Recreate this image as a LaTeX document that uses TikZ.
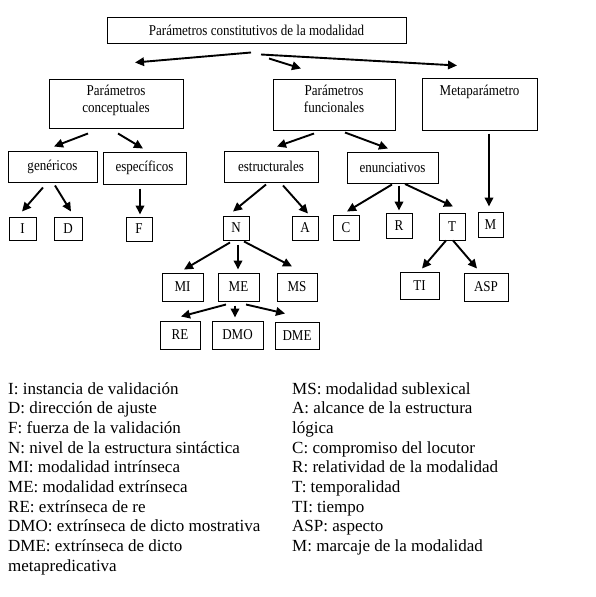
\documentclass[tikz,border=0pt]{standalone}
\usepackage{fontspec}
\setmainfont{Liberation Serif}
\newfontfamily\boxfont[FakeStretch=0.87]{Liberation Serif}
\usetikzlibrary{arrows.meta}
\begin{document}
\begin{tikzpicture}[x=1pt,y=-1pt,
  box/.style={draw, line width=1pt, inner sep=0pt, font=\boxfont\fontsize{15}{17}\selectfont},
  arr/.style={line width=1.9pt, -{Triangle[length=9pt,width=8.5pt]}},
  leg/.style={anchor=base west, inner sep=0pt, font=\fontsize{17}{20}\selectfont}]
\useasboundingbox[fill=white] (0,0) rectangle (595,597);
% top
\node[box, minimum width=299pt, minimum height=26pt] (top) at (256.5,30) {Parámetros constitutivos de la modalidad};
% level 1
\node[box, minimum width=134pt, minimum height=49pt] (conc) at (116,103.5)
  {\parbox[c][49pt][t]{134pt}{\centering\vspace*{6pt}Parámetros\\conceptuales}};
\node[box, minimum width=122pt, minimum height=51pt] (func) at (334,104.5)
  {\parbox[c][51pt][t]{122pt}{\centering\vspace*{6pt}Parámetros\\funcionales}};
\node[box, minimum width=115pt, minimum height=52pt] (meta) at (479.5,104)
  {\parbox[c][52pt][t]{115pt}{\centering\vspace*{7pt}Metaparámetro}};
% level 2
\node[box, minimum width=89pt, minimum height=31pt] (gen) at (52.5,166.5) {genéricos};
\node[box, minimum width=83pt, minimum height=32pt] (esp) at (144.5,168) {específicos};
\node[box, minimum width=94pt, minimum height=31pt] (est) at (271,166.5) {estructurales};
\node[box, minimum width=91pt, minimum height=31pt] (enu) at (392.5,167.5) {enunciativos};
% level 3
\node[box, minimum width=27pt, minimum height=23pt] (I) at (22.5,228.5) {I};
\node[box, minimum width=28pt, minimum height=23pt] (D) at (68,228.5) {D};
\node[box, minimum width=26pt, minimum height=24pt] (F) at (139,229) {F};
\node[box, minimum width=26pt, minimum height=24pt] (N) at (236,228) {N};
\node[box, minimum width=26pt, minimum height=24pt] (A) at (305,228) {A};
\node[box, minimum width=26pt, minimum height=25pt] (C) at (346,227.5) {C};
\node[box, minimum width=26pt, minimum height=25pt] (R) at (399,225.5) {R};
\node[box, minimum width=26pt, minimum height=27pt] (T) at (452,226.5) {T};
\node[box, minimum width=25pt, minimum height=25pt] (M) at (490.5,224.5) {M};
% level 4
\node[box, minimum width=41pt, minimum height=28pt] (MI) at (182.5,287) {MI};
\node[box, minimum width=41pt, minimum height=28pt] (ME) at (238.5,287) {ME};
\node[box, minimum width=40pt, minimum height=28pt] (MS) at (297,287) {MS};
\node[box, minimum width=39pt, minimum height=27pt] (TI) at (419.5,285.5) {TI};
\node[box, minimum width=44pt, minimum height=28pt] (ASP) at (486,287) {ASP};
% level 5
\node[box, minimum width=40pt, minimum height=28pt] (RE) at (180,335) {RE};
\node[box, minimum width=51pt, minimum height=28pt] (DMO) at (237.5,335) {DMO};
\node[box, minimum width=44pt, minimum height=27pt] (DME) at (297,335.5) {DME};
% arrows
\draw[arr] ([shift={(-5.5,9)}]top.south) -- ([shift={(19,-16)}]conc.north);
\draw[arr] ([shift={(12.5,15)}]top.south) -- ([shift={(-33,-10)}]func.north);
\draw[arr] ([shift={(4.5,11)}]top.south) -- ([shift={(-22.5,-12)}]meta.north);
\draw[arr] ([shift={(-28,5)}]conc.south) -- ([shift={(1.5,-4)}]gen.north);
\draw[arr] ([shift={(2,5)}]conc.south) -- ([shift={(-1.5,-3)}]esp.north);
\draw[arr] ([shift={(-20,3)}]func.south) -- ([shift={(6,-4)}]est.north);
\draw[arr] ([shift={(11,2)}]func.south) -- ([shift={(-4.5,-3)}]enu.north);
\draw[arr] ([shift={(9.5,3)}]meta.south) -- ([shift={(-1.5,-5)}]M.north);
\draw[arr] ([shift={(-9.5,5)}]gen.south) -- ([shift={(-0.5,-5)}]I.north);
\draw[arr] ([shift={(2.5,3)}]gen.south) -- ([shift={(3,-5)}]D.north);
\draw[arr] ([shift={(-4.5,4)}]esp.south) -- ([shift={(1,-2)}]F.north);
\draw[arr] ([shift={(-5,2)}]est.south) -- ([shift={(-3,-4)}]N.north);
\draw[arr] ([shift={(12,3)}]est.south) -- ([shift={(3,-2)}]A.north);
\draw[arr] ([shift={(-0.5,1)}]enu.south) -- ([shift={(1,-3)}]C.north);
\draw[arr] ([shift={(6.5,2)}]enu.south) -- ([shift={(0,-2)}]R.north);
\draw[arr] ([shift={(12.5,0.5)}]enu.south) -- ([shift={(1,-6)}]T.north);
\draw[arr] ([shift={(-6,2)}]N.south) -- ([shift={(1.5,-3)}]MI.north);
\draw[arr] ([shift={(2,4)}]N.south) -- ([shift={(-0.5,-3)}]ME.north);
\draw[arr] ([shift={(8,1)}]N.south) -- ([shift={(-5,-6)}]MS.north);
\draw[arr] ([shift={(-6,0)}]T.south) -- ([shift={(2.5,-3)}]TI.north);
\draw[arr] ([shift={(1,0)}]T.south) -- ([shift={(-9,-4)}]ASP.north);
\draw[arr] ([shift={(-12.5,3)}]ME.south) -- ([shift={(1,-4)}]RE.north);
\draw[arr] ([shift={(-3.5,4)}]ME.south) -- ([shift={(-2.5,-3)}]DMO.north);
\draw[arr] ([shift={(7.5,3)}]ME.south) -- ([shift={(-12,-8)}]DME.north);
% legend
\foreach \t [count=\i] in {I: instancia de validación, D: dirección de ajuste, F: fuerza de la validación, N: nivel de la estructura sintáctica, MI: modalidad intrínseca, ME: modalidad extrínseca, RE: extrínseca de re, DMO: extrínseca de dicto mostrativa, DME: extrínseca de dicto, metapredicativa}
  \node[leg] (l\i) at (8,{394+19.7*(\i-1)}) {\t};
\foreach \t [count=\i] in {MS: modalidad sublexical, A: alcance de la estructura, lógica, C: compromiso del locutor, R: relatividad de la modalidad, T: temporalidad, TI: tiempo, ASP: aspecto, M: marcaje de la modalidad}
  \node[leg] (r\i) at (292,{394+19.7*(\i-1)}) {\t};
\end{tikzpicture}
\end{document}
